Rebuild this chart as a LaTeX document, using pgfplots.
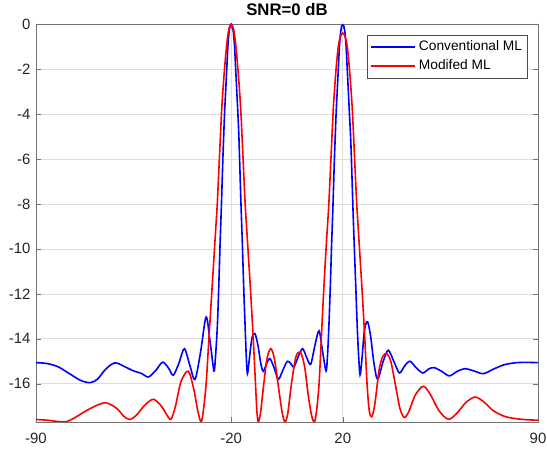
\documentclass[border=0pt]{standalone}
\usepackage{fontspec}
\setmainfont{Liberation Sans}
\usepackage{pgfplots}
\pgfplotsset{compat=1.18}
\usetikzlibrary{calc}
\definecolor{mlblue}{rgb}{0,0,1}
\definecolor{mlred}{rgb}{1,0,0}

\begin{document}
\begin{tikzpicture}
\begin{axis}[
    scale only axis,
    width=502bp, height=398bp,
    xmin=-90, xmax=90,
    ymin=-17.7, ymax=0,
    xtick={-90,-20,20,90},
    ytick={-16,-14,-12,-10,-8,-6,-4,-2,0},
    /pgf/number format/assume math mode=true,
    tick label style={font=\fontsize{15}{17}\selectfont, text=black!85},
    xticklabel style={yshift=-8bp},
    yticklabel style={xshift=-2bp},
    tick align=inside,
    major tick length=5bp,
    every tick/.style={black!55},
    axis line style={black!55},
    grid=major,
    major grid style={black!13, line width=0.6bp},
    title={SNR=0 dB},
    title style={font=\bfseries\fontsize{16.8}{19}\selectfont, yshift=-1bp},
    legend cell align=left,
    legend style={at={(rel axis cs:0.9787,0.9724)}, anchor=north east,
        font=\fontsize{13.8}{16}\selectfont, draw=black!70,
        inner xsep=3bp, inner ysep=3.5bp, row sep=2bp, column sep=1bp,
        nodes={inner sep=2bp, text height=10bp, text depth=3bp}},
    legend image code/.code={\draw[#1, line width=1.6bp] (0bp,0bp) -- (44.6bp,0bp);},
    every axis plot/.append style={line width=1.6bp, smooth, tension=0.5},
]
\addplot[mlblue] coordinates {
  (-90,-15.06) (-86,-15.10) (-82,-15.25) (-78,-15.55) (-74,-15.85) (-70.6,-15.95)
  (-68,-15.8) (-65,-15.35) (-61.7,-15.07) (-58,-15.25) (-55.2,-15.42) (-52,-15.55)
  (-49.7,-15.7) (-47,-15.4) (-44.6,-15.04) (-42.5,-15.3) (-40.8,-15.62) (-38.8,-15.1)
  (-36.8,-14.44) (-34.8,-15.2) (-33.0,-15.81) (-31,-14.6) (-29.0,-13.03) (-27.5,-14.2)
  (-26.2,-15.43) (-25.7,-14.9) (-25.0,-13.5) (-24.5,-11.8) (-24.0,-9.8) (-23.5,-8)
  (-23.0,-6) (-22.7,-5) (-22.4,-4) (-22.0,-3) (-21.6,-2) (-21.2,-1.0) (-20.8,-0.4)
  (-20.4,-0.08) (-20,0) (-19.6,-0.08) (-19.2,-0.4) (-18.8,-1.0) (-18.4,-2) (-18.0,-3)
  (-17.6,-4) (-17.25,-5) (-17.0,-6) (-16.5,-8) (-16.0,-9.8) (-15.5,-11.8) (-15.0,-13.5)
  (-14.6,-14.8) (-14.2,-15.55) (-13.6,-15.0) (-12.6,-14.0) (-11.5,-13.77) (-10.4,-14.3)
  (-9.4,-15.1) (-8.5,-15.45) (-7.3,-15.1) (-6.1,-14.88) (-4.6,-15.3) (-3.1,-15.8)
  (-1.5,-15.4) (0.1,-15.0) (1.3,-15.1) (2.5,-15.25) (4.0,-14.8) (5.6,-14.44)
  (7.1,-14.85) (8.5,-15.13) (10.0,-14.3) (11.5,-13.65) (12.8,-14.6) (14.0,-15.43)
  (14.5,-14.8) (15.0,-13.5) (15.5,-11.8) (16.0,-9.8) (16.5,-8) (17.0,-6) (17.3,-5)
  (17.6,-4) (18.0,-3) (18.4,-2) (18.8,-1.0) (19.2,-0.4) (19.6,-0.1) (20,-0.04)
  (20.4,-0.1) (20.8,-0.4) (21.2,-1.0) (21.6,-2) (22.0,-3) (22.4,-4) (22.8,-5) (23.1,-6)
  (23.6,-8) (24.1,-9.8) (24.7,-11.8) (25.2,-13.5) (25.7,-14.8) (26.2,-15.6) (26.8,-15.0)
  (27.8,-13.6) (28.9,-13.25) (30.0,-13.9) (31.2,-15.1) (32.5,-15.8) (34.5,-15.0)
  (36.3,-14.51) (38.3,-15.0) (40.3,-15.52) (42.2,-15.2) (44.1,-15.0) (46.4,-15.3)
  (48.7,-15.52) (50.7,-15.35) (52.7,-15.28) (55.5,-15.45) (58.2,-15.65) (61,-15.45)
  (63.8,-15.33) (67,-15.43) (70.4,-15.55) (74,-15.35) (78,-15.15) (82.4,-15.06)
  (86,-15.05) (90,-15.06)
};
\addlegendentry{Conventional ML}
\addplot[mlred] coordinates {
  (-90,-17.59) (-86,-17.62) (-82,-17.68) (-79,-17.68) (-76,-17.5) (-72,-17.2)
  (-68,-16.95) (-64.7,-16.85) (-61,-17.1) (-58.5,-17.45) (-56.3,-17.59) (-54,-17.4)
  (-51,-16.95) (-47.9,-16.69) (-45,-17.0) (-43,-17.4) (-41.6,-17.58) (-40,-17.0)
  (-38,-15.9) (-35.4,-15.44) (-33.5,-16.2) (-32,-17.2) (-30.8,-17.7) (-30.0,-17.2)
  (-29.0,-16.0) (-28.0,-14.0) (-27.0,-12.0) (-26.0,-10.0) (-25.5,-9.0) (-25.0,-8.0)
  (-24.25,-6.0) (-23.5,-4.0) (-23.0,-3.0) (-22.4,-2.0) (-21.6,-0.9) (-20.8,-0.2)
  (-20,-0.03) (-19.2,-0.2) (-18.4,-0.9) (-17.6,-2.0) (-17.0,-3.0) (-16.5,-4.0)
  (-15.75,-6.0) (-15.0,-8.0) (-14.5,-9.0) (-14.0,-10.0) (-13.0,-12.0) (-12.1,-14.0)
  (-11.3,-16.0) (-10.8,-17.2) (-10.3,-17.7) (-9.5,-17.3) (-8.5,-16.2) (-7.2,-14.9)
  (-5.8,-14.44) (-4.5,-14.9) (-3.0,-16.2) (-1.7,-17.3) (-0.7,-17.7) (0.3,-17.3)
  (1.6,-16.0) (3.2,-14.8) (4.9,-14.61) (6.4,-15.3) (7.6,-16.5) (8.8,-17.4) (9.8,-17.7)
  (10.6,-17.2) (11.5,-16.0) (12.3,-14.0) (13.1,-12.0) (14.0,-10.0) (14.5,-9.0)
  (15.0,-8.0) (15.75,-6.0) (16.5,-4.0) (17.0,-3.0) (17.6,-2.0) (18.4,-1.0) (19.2,-0.55)
  (20,-0.4) (20.8,-0.55) (21.6,-1.0) (22.4,-2.0) (23.0,-3.0) (23.5,-4.0) (24.25,-6.0)
  (25.0,-8.0) (25.5,-9.0) (26.0,-10.0) (27.0,-12.0) (27.9,-14.0) (28.7,-16.0)
  (29.5,-17.2) (30.4,-17.47) (31.5,-16.9) (33.0,-15.4) (34.3,-14.8) (35.7,-14.66)
  (37.2,-15.0) (38.8,-16.0) (40.5,-17.1) (42.1,-17.5) (43.8,-17.2) (46,-16.5)
  (48.9,-16.11) (51.5,-16.5) (54.5,-17.2) (57.9,-17.58) (61,-17.3) (64,-16.85)
  (67.4,-16.59) (70.5,-16.8) (74,-17.2) (78,-17.45) (82,-17.55) (86,-17.6) (90,-17.62)
};
\addlegendentry{Modifed ML}
\end{axis}
\pgfresetboundingbox
\path[use as bounding box] ($(current axis.south west)+(-36bp,-33bp)$) rectangle ($(current axis.north east)+(9bp,24bp)$);
\end{tikzpicture}
\end{document}
